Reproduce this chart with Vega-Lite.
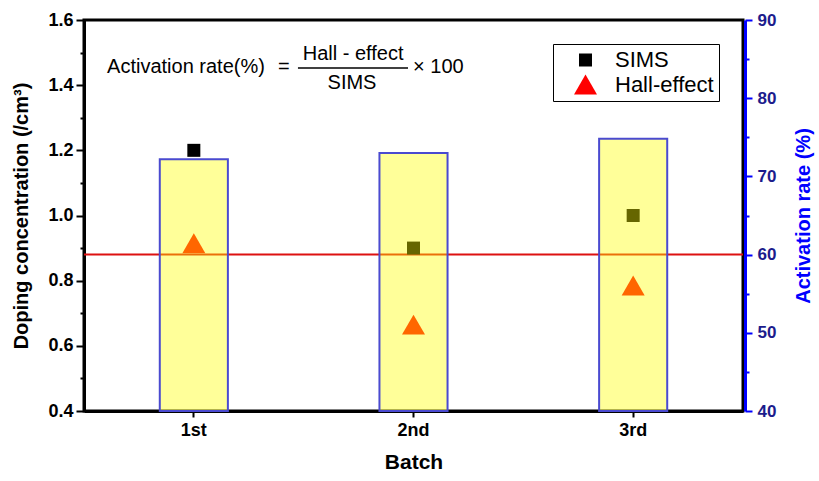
{
  "$schema": "https://vega.github.io/schema/vega-lite/v6.json",
  "width": 659,
  "height": 391,
  "autosize": {"type": "none"},
  "padding": {"left": 84, "top": 20, "right": 76, "bottom": 70},
  "config": {
    "font": "Liberation Sans",
    "view": {"stroke": "black", "strokeWidth": 3},
    "legend": {
      "title": null,
      "orient": "top-right",
      "offset": 24,
      "fillColor": "white",
      "strokeColor": "black",
      "strokeWidth": 1,
      "padding": 5,
      "labelFont": "Liberation Sans",
      "labelFontSize": 22,
      "labelColor": "black",
      "labelOffset": 18,
      "rowPadding": 2,
      "symbolStrokeWidth": 0,
      "symbolOffset": 16
    }
  },
  "datasets": {
    "conc": [
      {"batch": "1st", "series": "SIMS", "value": 1.2},
      {"batch": "2nd", "series": "SIMS", "value": 0.9},
      {"batch": "3rd", "series": "SIMS", "value": 1.0},
      {"batch": "1st", "series": "Hall-effect", "value": 0.915},
      {"batch": "2nd", "series": "Hall-effect", "value": 0.665},
      {"batch": "3rd", "series": "Hall-effect", "value": 0.785}
    ],
    "rate": [
      {"batch": "1st", "rate": 72.2},
      {"batch": "2nd", "rate": 73.0},
      {"batch": "3rd", "rate": 74.8}
    ],
    "threshold": [{"threshold": 60}]
  },
  "layer": [
    {
      "data": {"name": "threshold"},
      "mark": {"type": "rule", "color": "#dd1111", "strokeWidth": 2},
      "encoding": {
        "y": {"field": "threshold", "type": "quantitative", "scale": {"domain": [40, 90], "nice": false, "zero": false}, "axis": null}
      }
    },
    {
      "data": {"name": "conc"},
      "mark": {"type": "point", "filled": true, "opacity": 1, "strokeWidth": 0},
      "encoding": {
        "x": {
          "field": "batch", "type": "nominal",
          "scale": {"type": "band", "paddingInner": 0.69, "paddingOuter": 0.345},
          "axis": {
            "title": "Batch", "titleFontSize": 21, "titleFontWeight": "bold", "titleColor": "black", "titlePadding": 12,
            "labelFontSize": 18, "labelFontWeight": "bold", "labelColor": "black", "labelAngle": 0, "labelPadding": 4,
            "domainColor": "black", "domainWidth": 3, "tickColor": "black", "tickWidth": 2, "tickSize": 6, "grid": false
          }
        },
        "y": {
          "field": "value", "type": "quantitative",
          "scale": {"domain": [0.4, 1.6], "nice": false, "zero": false},
          "axis": {
            "title": "Doping concentration (/cm³)", "titleFontSize": 20, "titleFontWeight": "bold", "titleColor": "black", "titlePadding": 16,
            "values": [0.4, 0.5, 0.6, 0.7, 0.8, 0.9, 1.0, 1.1, 1.2, 1.3, 1.4, 1.5, 1.6],
            "labelExpr": "round(datum.value*10)%2==0 ? format(datum.value,'.1f') : ''",
            "labelFontSize": 18, "labelFontWeight": "bold", "labelColor": "black", "labelPadding": 3,
            "domainColor": "black", "domainWidth": 3, "tickColor": "black", "tickWidth": 2,
            "tickSize": {"condition": {"test": "round(datum.value*10)%2==0", "value": 8}, "value": 4},
            "grid": false
          }
        },
        "color": {"field": "series", "type": "nominal", "scale": {"domain": ["SIMS", "Hall-effect"], "range": ["#000000", "#ff0000"]}},
        "shape": {"field": "series", "type": "nominal", "scale": {"domain": ["SIMS", "Hall-effect"], "range": ["square", "triangle-up"]}},
        "size": {"field": "series", "type": "nominal", "scale": {"domain": ["SIMS", "Hall-effect"], "range": [169, 529]}}
      }
    },
    {
      "data": {"name": "rate"},
      "mark": {"type": "bar", "fill": "#ffff00", "fillOpacity": 0.4, "stroke": "#4a4ad0", "strokeWidth": 2},
      "encoding": {
        "x": {"field": "batch", "type": "nominal", "scale": {"type": "band", "paddingInner": 0.69, "paddingOuter": 0.345}, "axis": null},
        "y": {
          "field": "rate", "type": "quantitative",
          "scale": {"domain": [40, 90], "nice": false, "zero": false},
          "axis": {
            "orient": "right", "offset": 2,
            "title": "Activation rate (%)", "titleFontSize": 20, "titleFontWeight": "bold", "titleColor": "#0000ff", "titleAngle": 270, "titlePadding": 38,
            "values": [40, 45, 50, 55, 60, 65, 70, 75, 80, 85, 90],
            "labelExpr": "datum.value % 10 == 0 ? format(datum.value,'d') : ''",
            "labelFontSize": 17, "labelFontWeight": "bold", "labelColor": "#1c1c8c", "labelPadding": 5,
            "domainColor": "#0000ff", "domainWidth": 3, "tickColor": "#0000ff", "tickWidth": 2,
            "tickSize": {"condition": {"test": "datum.value % 10 == 0", "value": 7}, "value": 4},
            "grid": false
          }
        },
        "y2": {"datum": 40}
      }
    },
    {
      "data": {"values": [{}]},
      "layer": [
        {
          "mark": {"type": "text", "align": "left", "baseline": "middle", "fontSize": 20, "color": "black"},
          "encoding": {
            "x": {"datum": 0.105, "type": "quantitative", "scale": {"domain": [0, 3], "nice": false, "zero": false}, "axis": null},
            "y": {"datum": 1.456, "type": "quantitative", "scale": {"domain": [0.4, 1.6], "nice": false, "zero": false}, "axis": null},
            "text": {"value": "Activation rate(%)"}
          }
        },
        {
          "mark": {"type": "text", "align": "center", "baseline": "middle", "fontSize": 20, "color": "black"},
          "encoding": {
            "x": {"datum": 0.91, "type": "quantitative"},
            "y": {"datum": 1.456, "type": "quantitative"},
            "text": {"value": "="}
          }
        },
        {
          "mark": {"type": "text", "align": "center", "baseline": "middle", "fontSize": 20, "color": "black"},
          "encoding": {
            "x": {"datum": 1.225, "type": "quantitative"},
            "y": {"datum": 1.496, "type": "quantitative"},
            "text": {"value": "Hall - effect"}
          }
        },
        {
          "mark": {"type": "rule", "color": "black", "strokeWidth": 1.5},
          "encoding": {
            "x": {"datum": 0.974, "type": "quantitative"},
            "x2": {"datum": 1.475},
            "y": {"datum": 1.4528, "type": "quantitative"}
          }
        },
        {
          "mark": {"type": "text", "align": "center", "baseline": "middle", "fontSize": 20, "color": "black"},
          "encoding": {
            "x": {"datum": 1.22, "type": "quantitative"},
            "y": {"datum": 1.406, "type": "quantitative"},
            "text": {"value": "SIMS"}
          }
        },
        {
          "mark": {"type": "text", "align": "left", "baseline": "middle", "fontSize": 20, "color": "black"},
          "encoding": {
            "x": {"datum": 1.498, "type": "quantitative"},
            "y": {"datum": 1.456, "type": "quantitative"},
            "text": {"value": "× 100"}
          }
        }
      ]
    }
  ],
  "resolve": {"scale": {"x": "independent", "y": "independent"}}
}
